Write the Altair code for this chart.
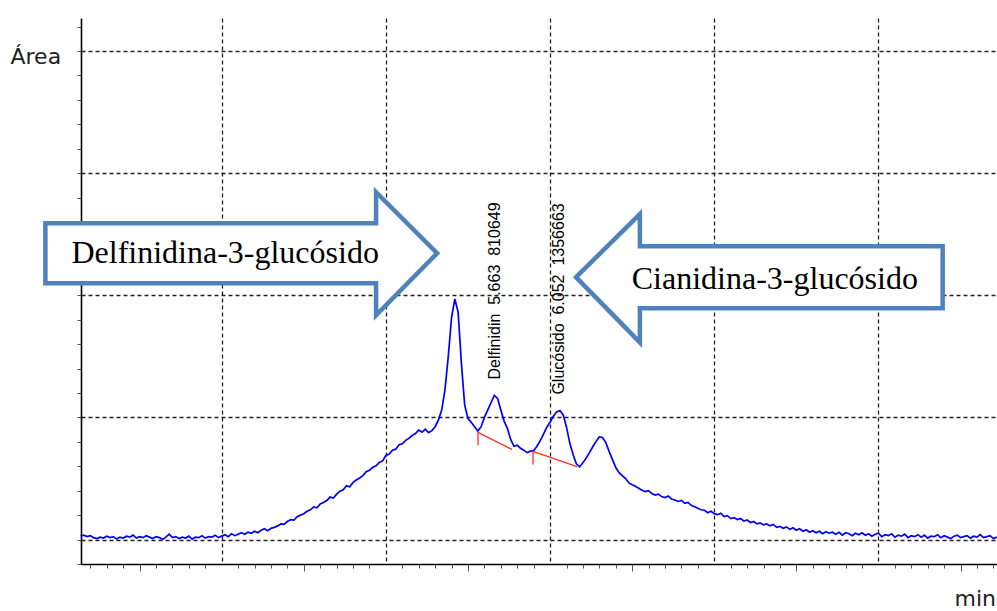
import altair as alt
import pandas as pd

# Detector signal, one reading every 0.02 min starting at 3.14 min (ten readings per row)
T0 = 3.14
DT = 0.02
signal_rows = [
    [0.14, 0.18, 0.12, 0.16, 0.08, 0.04, 0.10, 0.06, 0.14, 0.08],
    [0.12, 0.02, 0.10, 0.06, 0.14, 0.10, 0.18, 0.06, 0.12, 0.08],
    [0.16, 0.10, 0.04, 0.12, 0.08, 0.00, 0.10, 0.22, 0.08, 0.12],
    [0.04, 0.10, 0.06, 0.14, 0.02, 0.10, 0.08, 0.16, 0.06, 0.12],
    [0.10, 0.18, 0.08, 0.14, 0.20, 0.12, 0.24, 0.16, 0.22, 0.28],
    [0.22, 0.30, 0.26, 0.34, 0.28, 0.38, 0.44, 0.36, 0.46, 0.50],
    [0.56, 0.64, 0.62, 0.74, 0.82, 0.80, 0.94, 1.00, 1.06, 1.16],
    [1.22, 1.34, 1.30, 1.46, 1.52, 1.60, 1.74, 1.70, 1.86, 1.98],
    [2.04, 2.20, 2.16, 2.34, 2.44, 2.52, 2.62, 2.78, 2.84, 2.96],
    [3.02, 3.16, 3.22, 3.44, 3.50, 3.66, 3.70, 3.88, 3.92, 4.06],
    [4.14, 4.26, 4.34, 4.48, 4.40, 4.52, 4.38, 4.46, 4.62, 4.90],
    [5.30, 6.15, 7.50, 9.10, 9.85, 9.30, 7.20, 5.50, 4.95, 4.80],
    [4.62, 4.44, 4.62, 5.00, 5.30, 5.60, 5.90, 5.78, 5.30, 4.85],
    [4.55, 4.10, 3.82, 3.86, 3.74, 3.66, 3.56, 3.62, 3.64, 3.82],
    [4.05, 4.32, 4.60, 4.80, 5.05, 5.22, 5.28, 5.10, 4.60, 3.95],
    [3.48, 3.10, 2.98, 3.14, 3.34, 3.56, 3.80, 4.02, 4.20, 4.18],
    [3.96, 3.60, 3.27, 2.95, 2.74, 2.62, 2.50, 2.32, 2.24, 2.18],
    [2.10, 2.02, 1.96, 2.00, 1.88, 1.82, 1.86, 1.76, 1.72, 1.78],
    [1.66, 1.62, 1.56, 1.60, 1.48, 1.52, 1.40, 1.34, 1.28, 1.22],
    [1.20, 1.10, 1.16, 1.06, 1.02, 1.08, 0.94, 0.98, 0.86, 0.90],
    [0.82, 0.86, 0.76, 0.80, 0.70, 0.74, 0.64, 0.68, 0.60, 0.64],
    [0.56, 0.62, 0.50, 0.54, 0.46, 0.52, 0.42, 0.48, 0.38, 0.44],
    [0.34, 0.40, 0.30, 0.36, 0.28, 0.34, 0.24, 0.32, 0.26, 0.30],
    [0.22, 0.30, 0.18, 0.28, 0.24, 0.16, 0.26, 0.20, 0.28, 0.18],
    [0.24, 0.14, 0.22, 0.26, 0.12, 0.20, 0.16, 0.24, 0.10, 0.18],
    [0.14, 0.22, 0.08, 0.16, 0.12, 0.20, 0.10, 0.18, 0.06, 0.14],
    [0.12, 0.20, 0.08, 0.16, 0.10, 0.04, 0.14, 0.18, 0.08, 0.12],
    [0.16, 0.06, 0.14, 0.10, 0.20, 0.08, 0.12, 0.16, 0.04, 0.10],
]

# Integrated peaks: name, retention time (min), area counts, apex height
peak_names = ["Delfinidin", "Glucósido"]
peak_rt = [5.663, 6.052]
peak_area = [810649, 1356663]
peak_apex = [5.90, 5.28]

# Integration baselines (start / end of each peak)
base_start_t = [5.561, 5.896]
base_start_v = [4.39, 3.61]
base_end_t = [5.768, 6.164]
base_end_v = [3.69, 2.99]

# Callout arrows, outline vertices in data units (left to right)
arrow_names = ["Delfinidina-3-glucósido", "Cianidina-3-glucósido"]
delf_arrow_t = [2.926, 4.940, 4.940, 5.312]
delf_arrow_top = [12.95, 12.95, 14.22, 11.72]
delf_arrow_bottom = [10.49, 10.49, 9.18, 11.72]
cian_arrow_t = [6.158, 6.547, 6.547, 8.391]
cian_arrow_top = [10.74, 13.32, 12.01, 12.01]
cian_arrow_bottom = [10.74, 8.07, 9.47, 9.47]
arrow_text_t = [4.021, 7.369]
arrow_text_v = [11.72, 10.67]

X_DOMAIN = [3.143, 8.722]
Y_DOMAIN = [-1.0, 21.35]

signal = [v for row in signal_rows for v in row]
trace = pd.DataFrame({
    "t": [round(T0 + DT * i, 2) for i in range(len(signal))],
    "v": signal,
})

nbsp2 = "\u00a0\u00a0"
peaks = pd.DataFrame({
    "t": peak_rt,
    "v": peak_apex,
    "label": [f"{n}{nbsp2}{rt:.3f}{nbsp2}{a}" for n, rt, a in zip(peak_names, peak_rt, peak_area)],
})

baselines = pd.DataFrame({
    "t": base_start_t, "v": base_start_v, "t2": base_end_t, "v2": base_end_v,
})

arrows = pd.DataFrame({
    "arrow": [arrow_names[0]] * 4 + [arrow_names[1]] * 4,
    "t": delf_arrow_t + cian_arrow_t,
    "v": delf_arrow_top + cian_arrow_top,
    "v2": delf_arrow_bottom + cian_arrow_bottom,
})

arrow_labels = pd.DataFrame({"t": arrow_text_t, "v": arrow_text_v, "label": arrow_names})

minor_ticks = [round(3.2 + 0.1 * i, 1) for i in range(56)]
y_ticks = list(range(-1, 22))

int_test = "abs(datum.value - round(datum.value)) < 0.01"
half_test = "abs(datum.value * 2 - round(datum.value * 2)) < 0.01"
five_test = "abs(datum.value % 5) < 0.01"

x_scale = alt.Scale(domain=X_DOMAIN, nice=False, zero=False)
y_scale = alt.Scale(domain=Y_DOMAIN, nice=False, zero=False)

x_axis = alt.Axis(
    values=minor_ticks,
    tickCount=200,
    labels=False,
    title="min",
    domainColor="#000000",
    domainWidth=1.6,
    tickColor="#555555",
    tickWidth=1,
    tickSize={"condition": {"test": half_test, "value": 7}, "value": 4},
    tickOpacity={"condition": {"test": int_test, "value": 0}, "value": 1},
    grid=True,
    gridColor="#222222",
    gridDash=[4, 3],
    gridWidth=1.3,
    gridOpacity={"condition": {"test": int_test, "value": 1}, "value": 0},
    titleX=873,
    titleY=41,
    titleAlign="left",
    titleBaseline="alphabetic",
    titleFont="DejaVu Sans",
    titleFontSize=22,
    titleFontWeight="normal",
    titleColor="#222222",
)

y_axis = alt.Axis(
    values=y_ticks,
    tickCount=200,
    labels=False,
    title="Área",
    domainColor="#000000",
    domainWidth=1.6,
    tickColor="#555555",
    tickWidth=1,
    tickSize=4,
    grid=True,
    gridColor="#222222",
    gridDash=[4, 3],
    gridWidth=1.3,
    gridOpacity={"condition": {"test": five_test, "value": 1}, "value": 0},
    titleAngle=0,
    titleX=-71,
    titleY=45,
    titleAlign="left",
    titleBaseline="alphabetic",
    titleFont="DejaVu Sans",
    titleFontSize=22,
    titleFontWeight="normal",
    titleColor="#222222",
)

signal_line = alt.Chart(trace).mark_line(color="#0000ff", strokeWidth=1.7).encode(
    x=alt.X("t:Q", scale=x_scale, axis=x_axis),
    y=alt.Y("v:Q", scale=y_scale, axis=y_axis),
)

baseline_rules = alt.Chart(baselines).mark_rule(color="#ff2a2a", strokeWidth=1.3).encode(
    x="t:Q",
    y="v:Q",
    x2="t2:Q",
    y2="v2:Q",
)

baseline_drops = alt.Chart(baselines).mark_tick(
    orient="vertical", size=13, thickness=1.3, yOffset=6.5, color="#ff2a2a", opacity=1
).encode(
    x="t:Q",
    y="v:Q",
)

peak_labels = alt.Chart(peaks).mark_text(
    angle=270, align="left", baseline="middle", dx=16,
    font="Liberation Sans", fontSize=16, color="#000000",
).encode(
    x="t:Q",
    y="v:Q",
    text="label:N",
)

arrow_shapes = alt.Chart(arrows).mark_area(
    fill="#ffffff", fillOpacity=1, stroke="#4f81bd", strokeWidth=4.5,
    strokeJoin="miter", interpolate="linear",
).encode(
    x="t:Q",
    y=alt.Y("v:Q", stack=None),
    y2="v2:Q",
    detail="arrow:N",
)

arrow_text = alt.Chart(arrow_labels).mark_text(
    align="center", baseline="middle",
    font="Liberation Serif", fontSize=32, color="#000000",
).encode(
    x="t:Q",
    y="v:Q",
    text="label:N",
)

chart = alt.layer(
    signal_line, baseline_rules, baseline_drops, peak_labels, arrow_shapes, arrow_text
).properties(
    width=916,
    height=546,
    padding={"left": 81, "top": 18, "right": 0, "bottom": 47},
    autosize="none",
    background="#ffffff",
).configure_view(stroke=None)

chart.save("out.html", embed_options={"renderer": "svg", "actions": False})
